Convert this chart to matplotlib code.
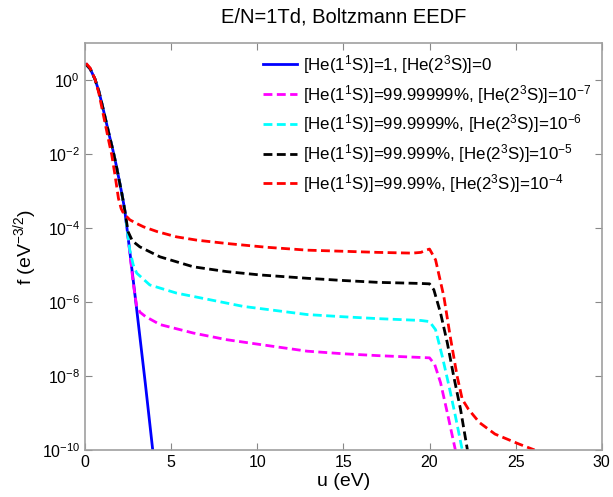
import numpy as np
import matplotlib
matplotlib.use("Agg")
import matplotlib.pyplot as plt

plt.rcParams['font.family'] = ['Liberation Sans', 'DejaVu Sans']
plt.rcParams['mathtext.default'] = 'regular'

# common low-energy part (u in eV, log10 f)
u_head = [0.06, 0.3, 0.58, 0.8, 1.0, 1.2, 1.4, 1.6, 1.8, 2.0, 2.15, 2.3]
lf_head = [0.42, 0.3, 0.02, -0.3, -0.68, -1.08, -1.48, -1.86, -2.28, -2.75, -3.1, -3.5]

u_blue = u_head + [2.5, 3.0, 3.5, 3.93]
lf_blue = lf_head + [-4.25, -6.2, -8.2, -10.0]

u_mag = u_head + [2.5, 2.8, 3.0, 3.2, 3.5, 4.35, 6.29, 8.23, 10.17, 12.9, 15, 17,
                  19.5, 20.0, 20.3, 20.64, 21.03, 21.5]
lf_mag = lf_head + [-4.25, -5.5, -6.12, -6.28, -6.39, -6.61, -6.84, -7.02, -7.15, -7.33,
                    -7.4, -7.45, -7.5, -7.51, -7.69, -8.18, -8.99, -10.0]

u_cyan = u_head + [2.5, 2.6, 2.8, 3.0, 3.76, 5.31, 7.25, 9.19, 12.9, 15, 17,
                   19.5, 20.0, 20.35, 20.74, 21.13, 21.5, 21.9]
lf_cyan = lf_head + [-4.25, -4.6, -5.0, -5.22, -5.54, -5.76, -5.94, -6.12, -6.34, -6.4, -6.45,
                     -6.5, -6.53, -6.75, -7.47, -8.27, -9.08, -10.0]

u_black = u_head + [2.5, 2.75, 3.18, 4.35, 6.29, 8.23, 10.17, 12.9, 15, 17,
                    19.5, 20.0, 20.25, 20.64, 21.03, 21.4, 21.8, 22.2]
lf_black = lf_head + [-4.1, -4.35, -4.51, -4.78, -5.05, -5.18, -5.27, -5.36, -5.42, -5.47,
                      -5.5, -5.51, -5.67, -6.3, -7.1, -8.0, -8.9, -10.0]

u_red = [0.06, 0.3, 0.58, 0.8, 1.0, 1.2, 1.4, 1.55, 1.75, 1.94, 2.1, 2.23, 2.6, 3.0, 3.4,
         4.2, 5.31, 6.5, 8.23, 10.5, 12.9, 15, 17, 19.0, 19.5, 19.8, 20.0, 20.35, 20.83,
         21.2, 21.6, 21.9, 22.26, 22.9, 23.8, 25.2, 26.1]
lf_red = [0.45, 0.32, 0.02, -0.35, -0.8, -1.25, -1.7, -2.02, -2.6, -3.2, -3.48, -3.6, -3.78, -3.88,
          -3.97, -4.1, -4.24, -4.33, -4.42, -4.52, -4.6, -4.63, -4.66, -4.68, -4.66, -4.6, -4.57,
          -4.86, -5.85, -6.93, -8.0, -8.63, -8.9, -9.26, -9.57, -9.84, -10.0]

labels = ['[He(1$^1$S)]=1, [He(2$^3$S)]=0',
          '[He(1$^1$S)]=99.99999%, [He(2$^3$S)]=10$^{-7}$',
          '[He(1$^1$S)]=99.9999%, [He(2$^3$S)]=10$^{-6}$',
          '[He(1$^1$S)]=99.999%, [He(2$^3$S)]=10$^{-5}$',
          '[He(1$^1$S)]=99.99%, [He(2$^3$S)]=10$^{-4}$']

fig = plt.figure(figsize=(6.13, 4.97), dpi=100)
ax = fig.add_axes([0.1387, 0.0946, 0.843, 0.819])

dash = (0, (3.2, 1.6))
ax.semilogy(u_blue, 10.0 ** np.array(lf_blue), color='#0000ff', lw=2, label=labels[0])
ax.semilogy(u_mag, 10.0 ** np.array(lf_mag), color='#ff00ff', lw=2, ls=dash, label=labels[1])
ax.semilogy(u_cyan, 10.0 ** np.array(lf_cyan), color='#00ffff', lw=2, ls=dash, label=labels[2])
ax.semilogy(u_black, 10.0 ** np.array(lf_black), color='black', lw=2, ls=dash, label=labels[3])
ax.semilogy(u_red, 10.0 ** np.array(lf_red), color='#ff0000', lw=2, ls=dash, label=labels[4])

ax.set_xlim(0, 30)
ax.set_ylim(1e-10, 1e1)
ax.set_xticks([0, 5, 10, 15, 20, 25, 30])
ax.set_yticks([1e-10, 1e-8, 1e-6, 1e-4, 1e-2, 1e0])
ax.yaxis.set_minor_locator(matplotlib.ticker.NullLocator())
ax.tick_params(direction='in', top=True, right=True, labelsize=11.5, length=5,
               color='#888888', width=0.8)
for s in ax.spines.values():
    s.set_color('#a0a0a0')
    s.set_linewidth(1.2)

ax.set_title('E/N=1Td, Boltzmann EEDF', fontsize=14.5, pad=15)
ax.set_xlabel('u (eV)', fontsize=14, labelpad=2)
ax.set_ylabel('f (eV$^{-3/2}$)', fontsize=14, labelpad=2)

ax.legend(loc='upper right', frameon=False, fontsize=12.2, handlelength=2.0,
          handletextpad=0.35, labelspacing=0.4, borderaxespad=0.2,
          bbox_to_anchor=(1.0, 1.0))

fig.savefig('out.png', dpi=100)
